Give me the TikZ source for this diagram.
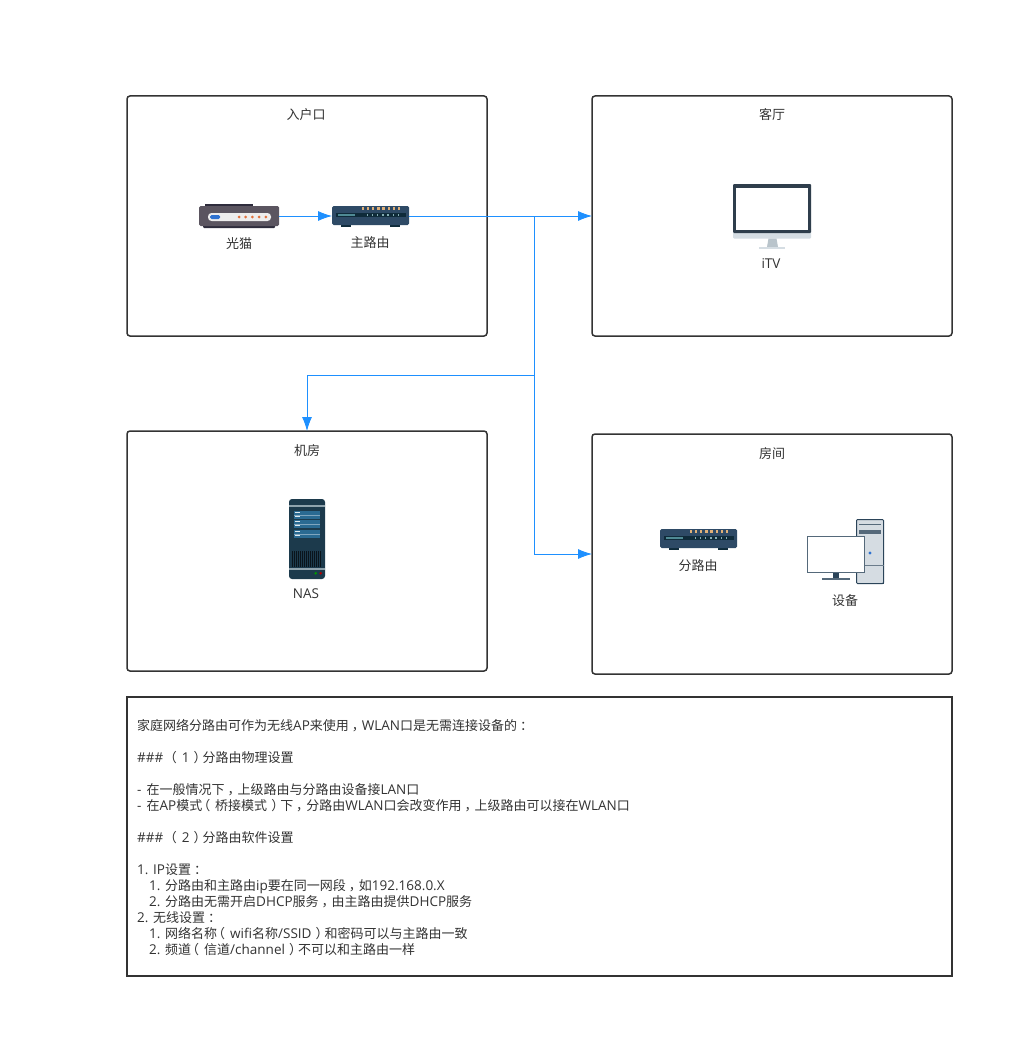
\documentclass[tikz,border=0pt]{standalone}
\usepackage{fontspec}
\setmainfont{Noto Sans CJK SC}
\newfontfamily\latfont[Scale=1.04]{Open Sans}
\usetikzlibrary{arrows.meta}

\definecolor{boxline}{HTML}{333333}
\definecolor{linkblue}{HTML}{1E90FF}
\definecolor{routerbody}{HTML}{2E4A66}
\definecolor{routerslot}{HTML}{0F2B3A}
\definecolor{routerteal}{HTML}{4F8A94}
\definecolor{ledorange}{HTML}{E0B078}
\definecolor{modembody}{HTML}{5B5560}
\definecolor{modemdark}{HTML}{2E2C3C}
\definecolor{modemdot}{HTML}{E0703C}
\definecolor{pillblue}{HTML}{2F72D0}
\definecolor{tvdark}{HTML}{2F3E4C}
\definecolor{tvsilver}{HTML}{D5DDE3}
\definecolor{tvstand}{HTML}{B9C4CB}
\definecolor{nasbody}{HTML}{1C3A4C}
\definecolor{naspanel}{HTML}{2A6A92}
\definecolor{nasstrip}{HTML}{8FA3AD}
\definecolor{pcgrey}{HTML}{D5DCE2}
\definecolor{pcdark}{HTML}{2B4459}

\newcommand{\lat}[1]{{\latfont #1}}
% full width marks sit in the middle of their cell
\newcommand{\zl}{\kern-5pt（\kern5pt}
\newcommand{\zr}{\kern4pt）\kern-4pt}
\newcommand{\zd}{\kern3pt，\kern-3pt}
\newcommand{\zm}{\kern3pt：\kern-3pt}

\tikzset{
  room/.style={draw=boxline, line width=1.5pt, rounded corners=3pt, minimum width=360, minimum height=240, inner sep=0, outer sep=0},
  notebox/.style={draw=boxline, line width=1.5pt, minimum width=825, minimum height=279, inner sep=0, outer sep=0},
  lbl/.style={text=boxline, font=\fontsize{13}{16}\selectfont, inner sep=0},
  icon/.style={inner sep=0, outer sep=0},
  link/.style={draw=linkblue, line width=.8pt},
  linkarrow/.style={link, -{Latex[length=14,width=10]}}
}

% router drawn from its upper left corner
\newcommand{\routerdraw}[1]{
\begin{scope}[shift={(#1)}]
  \fill[routerslot] (9,19) rectangle (19,20.5);
  \fill[routerslot] (58,19) rectangle (68,20.5);
  \fill[routerbody, rounded corners=1.5pt] (0,0) rectangle (77,19);
  \fill[routerslot] (4,7) rectangle (74,11);
  \fill[routerteal] (6,8) rectangle (23,10);
  \foreach \x in {0,...,7}
  {
    \fill[ledorange] (30+\x*5.1,1) rectangle (32.2+\x*5.1,4);
  }
  \foreach \x in {0,...,6}
  {
    \fill[routerteal!70!white] (35+\x*5.1,8.4) rectangle (36.2+\x*5.1,9.6);
  }
\end{scope}
}

\begin{document}
\begin{tikzpicture}[x=1pt, y=-1pt, >=Latex]
\useasboundingbox (0,0) rectangle (1014,1038);
\fill[white] (0,0) rectangle (1014,1038);

\node[room] (rukou) at (307,216){};
\node[room] (keting) at (772,216){};
\node[room] (jifang) at (307,551){};
\node[room] (fangjian) at (772,554){};
\node[notebox] (note) at (539.5,836.5){};

\node[lbl] (rukoutxt) at (306,114.8){入户口};
\node[lbl] (ketingtxt) at (772,114.8){客厅};
\node[lbl] (jifangtxt) at (307,450.2){机房};
\node[lbl] (fangjiantxt) at (772,453.2){房间};

% modem
\fill[modemdark] (205,204) rectangle (253,207);
\fill[modemdark, rounded corners=1pt] (203,222) rectangle (275,228);
\fill[modembody, rounded corners=1.5pt] (199,206) rectangle (279,226);
\fill[white!93!black, rounded corners=3.5pt] (208,213) rectangle (271,221);
\fill[pillblue, rounded corners=1.5pt] (210,215) rectangle (220,219);
\foreach \x in {239,245.7,252.4,259.1,265.8}
{
  \fill[modemdot] (\x,217) circle (1.5);
}
\node[icon, minimum width=80, minimum height=24] (guangmao) at (239,216){};
\node[lbl] (guangmaotxt) at (239,243.8){光猫};

% routers
\routerdraw{332,206}
\node[icon, minimum width=77, minimum height=20] (zhuluyou) at (370.5,216){};
\node[lbl] (zhuluyoutxt) at (370,242.8){主路由};
\routerdraw{660,529}
\node[icon, minimum width=77, minimum height=20] (fenluyou) at (698.5,539){};
\node[lbl] (fenluyoutxt) at (698,565.3){分路由};

% tv
\fill[tvsilver, rounded corners=1pt] (733,228) rectangle (811,238.5);
\fill[tvdark, rounded corners=1pt] (733,184) rectangle (811,233);
\fill[white] (736,188) rectangle (808,230);
\fill[tvstand] (768.5,238.5) -- (776.5,238.5) -- (778,247) -- (767,247) -- cycle;
\fill[tvsilver] (759,247) rectangle (785,249);
\node[icon, minimum width=78, minimum height=65] (itv) at (772,216.5){};
\node[lbl, font=\fontsize{13}{16}\latfont] (itvtxt) at (771,264){iTV};

% nas
\fill[nasbody, rounded corners=3pt] (289,499) rectangle (325,579);
\fill[nasstrip] (289,505) rectangle (325,506.8);
\fill[nasstrip] (289,568) rectangle (325,570);
\foreach \y in {511,520,530}
{
  \fill[naspanel] (294,\y) rectangle (320,\y+7.5);
  \fill[naspanel!60!white] (294,\y+3.5) rectangle (320,\y+4);
  \fill[white!85!naspanel] (295,\y+1) rectangle (300,\y+2.4);
  \fill[white!85!naspanel] (295,\y+4.6) rectangle (300,\y+6);
}
\foreach \x in {0,...,14}
{
  \fill[black!65!nasbody] (292+\x*2,551) rectangle (293+\x*2,567);
}
\fill[green!60!black] (315.7,573.3) circle (1.4);
\fill[red!70!black] (320.7,573.3) circle (1.4);
\node[icon, minimum width=36, minimum height=80] (nas) at (307,539){};
\node[lbl, font=\fontsize{13}{16}\latfont] (nastxt) at (306,594){NAS};

% pc
\fill[pcgrey, draw=pcdark, line width=1pt, rounded corners=1pt] (856.5,519.5) rectangle (883.5,583.5);
\draw[pcdark, line width=1.5pt] (857,583.5) -- (883.5,583.5) -- (883.5,520);
\fill[pcdark!80!white] (859,523.5) rectangle (881,525.3);
\fill[pcdark!80!white] (859,530) rectangle (881,534);
\draw[pcdark!70!white] (856.5,565) -- (883.5,565);
\fill[pillblue] (870,553) circle (1.6);
\fill[pcdark] (833,573) rectangle (839,578);
\fill[pcdark!80!white] (822,578) rectangle (850,579.5);
\fill[white, draw=pcdark!80!white, line width=1pt] (807.5,536.5) rectangle (864.5,572.5);
\node[icon, minimum width=77, minimum height=65] (shebei) at (845.5,551.5){};
\node[lbl] (shebeitxt) at (845,600.3){设备};

% links
\coordinate (branch) at (534,216);
\coordinate (turn) at (534,375);
\draw[linkarrow] (guangmao.east) -- (zhuluyou.west);
\draw[linkarrow] (zhuluyou.east) -- (keting.west);
\draw[linkarrow] (branch) |- (fangjian.west);
\draw[linkarrow] (turn) -| (jifang.north);

\node[lbl, anchor=north west, align=left] (notetxt) at (137,719){家庭网络分路由可作为无线\lat{AP}来使用\zd\lat{WLAN}口是无需连接设备的\zm\\
~\\
\lat{\#\#\# }\kern2pt\zl\lat{1}\zr 分路由物理设置\\
~\\
\lat{- }\kern1.5pt在一般情况下\zd 上级路由与分路由设备接\lat{LAN}口\\
\lat{- }\kern1.5pt在\lat{AP}模式\zl 桥接模式\zr 下\zd 分路由\lat{WLAN}口会改变作用\zd 上级路由可以接在\lat{WLAN}口\\
~\\
\lat{\#\#\# }\kern2pt\zl\lat{2}\zr 分路由软件设置\\
~\\
\lat{1. IP}设置\zm\\
\hspace*{12pt}\lat{1. }分路由和主路由\lat{ip}要在同一网段\zd 如\lat{192.168.0.X}\\
\hspace*{12pt}\lat{2. }分路由无需开启\lat{DHCP}服务\zd 由主路由提供\lat{DHCP}服务\\
\lat{2. }无线设置\zm\\
\hspace*{12pt}\lat{1. }网络名称\zl\lat{wifi}名称\lat{/SSID}\zr 和密码可以与主路由一致\\
\hspace*{12pt}\lat{2. }频道\zl 信道\lat{/channel}\zr 不可以和主路由一样};
\end{tikzpicture}
\end{document}
